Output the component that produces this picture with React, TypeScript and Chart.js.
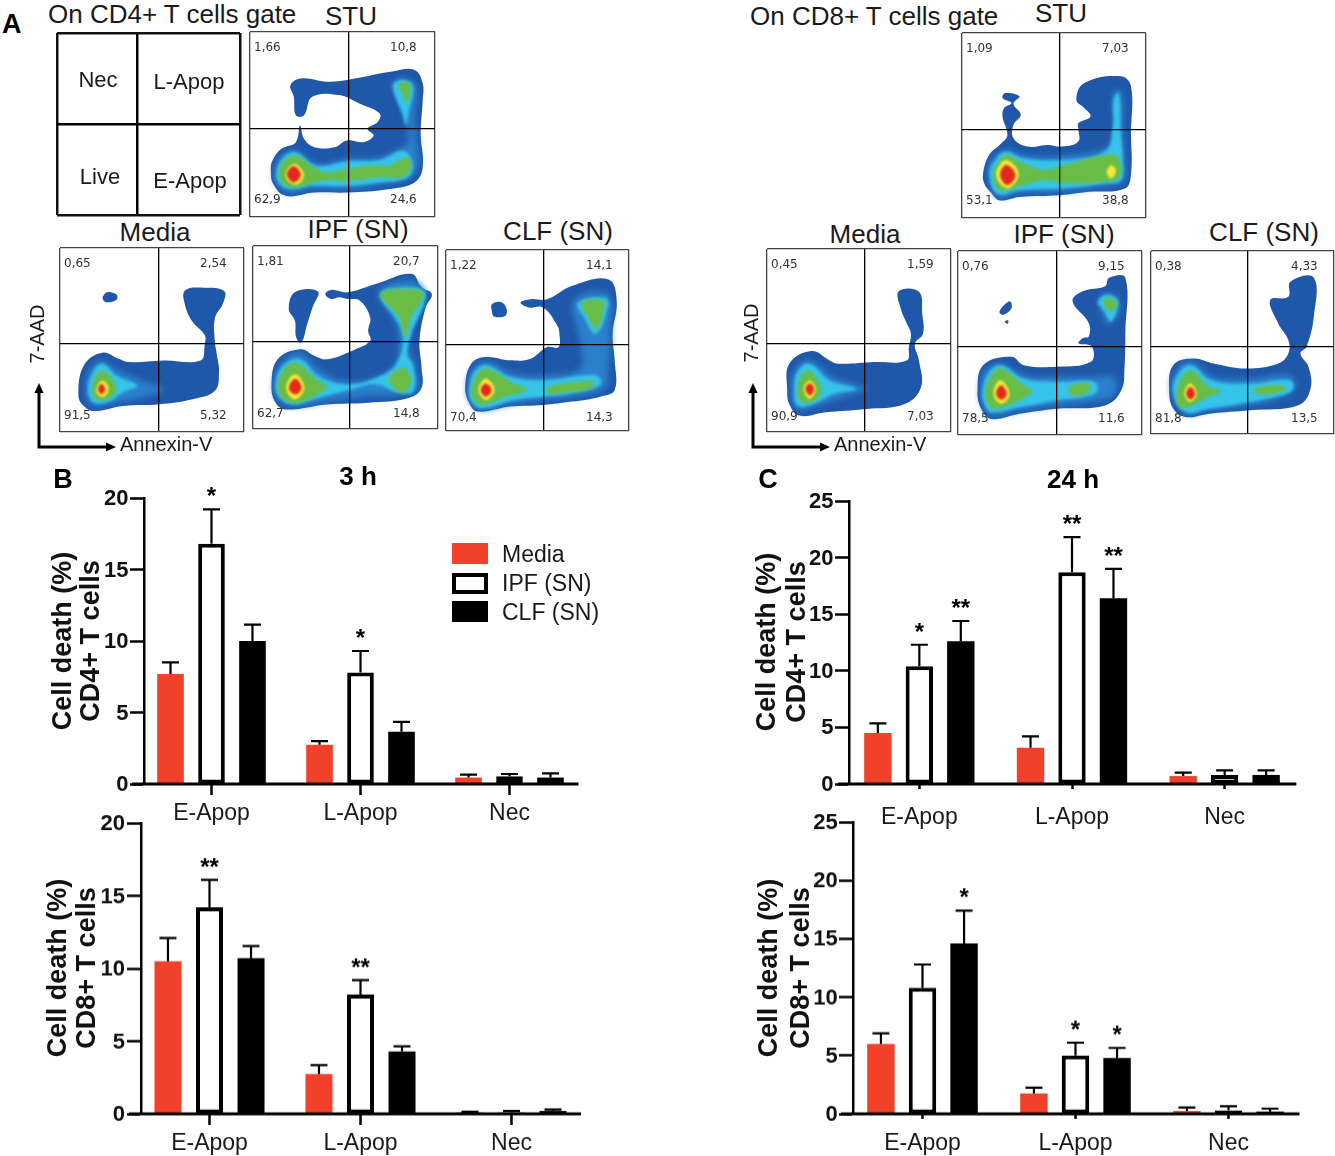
import React, { useEffect, useRef } from "react";
import { Chart, registerables } from "chart.js";

// Closed, smooth, softly edged density layers; registered first so it runs ahead of the Filler plugin.
const densityLayers = {
  id: "densityLayers",
  afterDatasetUpdate(chart: any, args: any) {
    const line = chart.getDatasetMeta(args.index).dataset;
    if (line && chart.data.datasets[args.index].blurPx) {
      line._loop = true;
      line._fullLoop = true;
    }
  },
  beforeDatasetDraw(chart: any, args: any) {
    const b = chart.data.datasets[args.index].blurPx;
    chart.ctx.filter = b ? `blur(${b}px)` : "none";
  },
  afterDatasetDraw(chart: any) {
    chart.ctx.filter = "none";
  },
  afterDatasetsDraw(chart: any) {
    chart.ctx.filter = "none";
  },
};
Chart.register(densityLayers);
Chart.register(...registerables);

const FONT = '"Liberation Sans", Arial, sans-serif';

/* ---------- bar data ---------- */
const categories = ["E-Apop", "L-Apop", "Nec"];
const seriesNames = ["Media", "IPF (SN)", "CLF (SN)"];

const h3Cd4Media = [7.7, 2.75, 0.45];
const h3Cd4MediaErr = [8.5, 3.0, 0.65];
const h3Cd4Ipf = [16.8, 7.8, 0.55];
const h3Cd4IpfErr = [19.2, 9.3, 0.7];
const h3Cd4Clf = [10.0, 3.65, 0.45];
const h3Cd4ClfErr = [11.15, 4.35, 0.75];
const h3Cd4IpfStars = ["*", "*", ""];

const h3Cd8Media = [10.5, 2.75, 0.1];
const h3Cd8MediaErr = [12.1, 3.35, 0.15];
const h3Cd8Ipf = [14.2, 8.2, 0.1];
const h3Cd8IpfErr = [16.1, 9.2, 0.2];
const h3Cd8Clf = [10.7, 4.3, 0.2];
const h3Cd8ClfErr = [11.55, 4.65, 0.3];
const h3Cd8IpfStars = ["**", "**", ""];

const h24Cd4Media = [4.5, 3.2, 0.7];
const h24Cd4MediaErr = [5.35, 4.2, 1.0];
const h24Cd4Ipf = [10.4, 18.7, 0.8];
const h24Cd4IpfErr = [12.3, 21.8, 1.2];
const h24Cd4Clf = [12.6, 16.4, 0.8];
const h24Cd4ClfErr = [14.4, 19.0, 1.2];
const h24Cd4IpfStars = ["*", "**", ""];
const h24Cd4ClfStars = ["**", "**", ""];

const h24Cd8Media = [6.0, 1.75, 0.25];
const h24Cd8MediaErr = [6.9, 2.25, 0.55];
const h24Cd8Ipf = [10.8, 5.0, 0.3];
const h24Cd8IpfErr = [12.8, 6.1, 0.65];
const h24Cd8Clf = [14.6, 4.8, 0.2];
const h24Cd8ClfErr = [17.4, 5.65, 0.45];
const h24Cd8IpfStars = ["", "*", ""];
const h24Cd8ClfStars = ["*", "*", ""];
const noStars = ["", "", ""];

/* ---------- flow cytometry gate percentages ---------- */
const cd4StuGates = ["1,66", "10,8", "62,9", "24,6"];
const cd4MediaGates = ["0,65", "2,54", "91,5", "5,32"];
const cd4IpfGates = ["1,81", "20,7", "62,7", "14,8"];
const cd4ClfGates = ["1,22", "14,1", "70,4", "14,3"];
const cd8StuGates = ["1,09", "7,03", "53,1", "38,8"];
const cd8MediaGates = ["0,45", "1,59", "90,9", "7,03"];
const cd8IpfGates = ["0,76", "9,15", "78,5", "11,6"];
const cd8ClfGates = ["0,38", "4,33", "81,8", "13,5"];

/* ---------- density contours in each plot's own units ---------- */
type Poly = number[][];
const cd4StuOuter: Poly = [[668,480],[690,445],[725,425],[735,375],[745,415],[770,440],[820,440],[850,420],[890,425],[915,405],[900,385],[925,365],[930,340],[880,310],[830,285],[765,290],[745,345],[725,345],[720,290],[712,255],[740,235],[800,245],[850,240],[960,215],[1015,210],[1035,250],[1035,300],[1030,400],[1035,500],[1015,545],[950,565],[850,575],[770,575],[700,585],[670,550],[664,510]];
const cd4StuMid: Poly = [[672,510],[690,465],[725,450],[780,490],[850,475],[930,470],[985,440],[1000,420],[990,340],[970,270],[960,250],[990,235],[1020,260],[1015,340],[1020,420],[1025,490],[1005,530],[940,550],[850,565],[760,565],[710,575],[680,555]];
const cd4StuCyanTop: Poly = [[962,255],[990,240],[1012,260],[1000,340],[995,375],[985,340]];
const cd4StuCyan: Poly = [[678,510],[695,470],[725,455],[775,495],[850,482],[930,478],[985,450],[1005,470],[1010,510],[990,535],[930,545],[850,555],[760,555],[715,565],[685,550]];
const cd4StuGreenTop: Poly = [[975,255],[990,245],[1005,258],[995,310],[985,280]];
const cd4StuGreen: Poly = [[685,510],[700,475],[725,465],[770,500],[800,515],[850,505],[900,495],[950,495],[1000,470],[1005,505],[985,530],[930,530],[860,540],[790,540],[720,560],[690,545]];
const cd4StuYellow: Poly = [[700,520],[720,490],[738,505],[745,525],[730,550],[710,545]];
const cd4StuRed: Poly = [[703,520],[720,497],[737,522],[720,545]];

const cd4MediaOuter: Poly = [[192,1180],[205,1090],[250,1052],[290,1070],[315,1080],[400,1075],[490,1075],[500,1030],[500,1000],[470,960],[452,910],[452,868],[500,860],[548,870],[545,905],[525,950],[525,1020],[530,1060],[535,1110],[525,1165],[470,1190],[390,1205],[300,1210],[230,1225],[205,1210]];
const cd4MediaBlob: Poly = [[252,885],[262,873],[285,880],[285,895],[262,903],[252,895]];
const cd4MediaMid: Poly = [[210,1170],[220,1100],[250,1075],[290,1105],[360,1140],[400,1160],[350,1185],[280,1200],[225,1210]];
const cd4MediaCyan: Poly = [[215,1165],[225,1115],[250,1085],[285,1120],[335,1150],[300,1170],[270,1195],[230,1200]];
const cd4MediaGreen: Poly = [[225,1160],[235,1120],[250,1105],[275,1130],[285,1160],[270,1185],[235,1190]];
const cd4MediaYellow: Poly = [[236,1160],[248,1135],[262,1145],[265,1165],[255,1182],[240,1178]];
const cd4MediaRed: Poly = [[240,1160],[248,1145],[257,1160],[248,1175]];

const cd4IpfOuter: Poly = [[665,1150],[680,1075],[735,1045],[770,1065],[800,1075],[860,1050],[905,1020],[900,990],[905,950],[880,900],[850,895],[830,890],[810,895],[796,880],[810,868],[850,875],[920,850],[1005,820],[1030,860],[1055,880],[1040,920],[1025,1020],[1030,1100],[1030,1160],[1000,1190],[900,1205],[800,1210],[700,1225],[675,1205]];
const cd4IpfBlob: Poly = [[707,925],[722,875],[778,873],[765,920],[752,970],[738,1025],[725,1010],[722,960]];
const cd4IpfMid: Poly = [[925,875],[1005,840],[1040,880],[1010,960],[1000,1040],[1015,1100],[1020,1165],[980,1180],[900,1185],[800,1200],[720,1215],[680,1195],[670,1150],[690,1085],[735,1055],[780,1105],[840,1140],[920,1130],[965,1090],[975,1020],[965,960]];
const cd4IpfCyan: Poly = [[930,880],[1000,860],[1040,880],[1005,1000],[995,1060],[1010,1095],[1010,1170],[975,1175],[920,1150],[860,1165],[780,1190],[720,1210],[685,1190],[675,1150],[692,1095],[735,1075],[780,1125],[850,1150],[930,1125],[970,1085],[985,1010],[970,960]];
const cd4IpfGreenTop: Poly = [[930,880],[1000,865],[1035,880],[1005,950],[990,1010],[975,950]];
const cd4IpfGreenLow: Poly = [[950,1130],[985,1100],[1005,1135],[985,1175],[955,1150]];
const cd4IpfGreen: Poly = [[680,1155],[695,1105],[725,1085],[775,1135],[800,1155],[770,1185],[720,1205],[690,1190]];
const cd4IpfYellow: Poly = [[700,1160],[722,1120],[745,1160],[722,1195]];
const cd4IpfRed: Poly = [[707,1160],[723,1133],[738,1160],[723,1180]];

const cd4ClfOuter: Poly = [[1140,1160],[1155,1090],[1190,1070],[1250,1080],[1300,1075],[1340,1040],[1368,1040],[1370,1000],[1365,975],[1330,920],[1295,920],[1275,905],[1300,895],[1340,895],[1400,855],[1490,835],[1510,900],[1500,1000],[1505,1080],[1505,1170],[1470,1190],[1400,1205],[1330,1215],[1250,1220],[1170,1235],[1150,1210]];
const cd4ClfBlob: Poly = [[1205,910],[1225,903],[1240,920],[1238,945],[1210,947],[1205,930]];
const cd4ClfMid: Poly = [[1145,1165],[1160,1100],[1195,1085],[1260,1120],[1340,1125],[1420,1105],[1420,1020],[1405,900],[1490,880],[1495,1000],[1490,1100],[1480,1165],[1400,1190],[1330,1200],[1260,1210],[1180,1230],[1152,1205]];
const cd4ClfCyanTop: Poly = [[1415,905],[1480,890],[1490,910],[1460,1000],[1430,950]];
const cd4ClfCyan: Poly = [[1150,1160],[1165,1110],[1195,1095],[1250,1130],[1330,1140],[1460,1125],[1470,1155],[1400,1180],[1330,1190],[1260,1200],[1180,1225],[1155,1205]];
const cd4ClfGreenTop: Poly = [[1425,905],[1475,897],[1480,915],[1460,985],[1440,950]];
const cd4ClfGreenLow: Poly = [[1345,1160],[1420,1145],[1455,1145],[1445,1165],[1380,1178],[1340,1180]];
const cd4ClfGreen: Poly = [[1155,1170],[1170,1120],[1195,1105],[1250,1145],[1290,1170],[1240,1190],[1180,1215],[1158,1195]];
const cd4ClfYellow: Poly = [[1172,1170],[1190,1135],[1212,1170],[1190,1200]];
const cd4ClfRed: Poly = [[1178,1170],[1190,1150],[1204,1170],[1190,1190]];

const cd8StuOuter: Poly = [[700,520],[715,465],[745,430],[760,405],[748,350],[752,325],[770,310],[748,295],[755,280],[790,290],[775,312],[793,345],[775,375],[775,415],[810,440],[860,435],[895,440],[935,425],[935,385],[935,370],[965,350],[950,325],[930,300],[950,250],[1040,230],[1065,260],[1065,400],[1065,520],[1050,565],[960,575],[890,585],[790,590],[740,600],[718,575],[703,550]];
const cd8StuMid: Poly = [[712,520],[725,475],[755,450],[800,465],[890,470],[1010,440],[1025,400],[1020,290],[1035,270],[1045,300],[1045,400],[1050,480],[1050,540],[1010,555],[890,575],[790,578],[735,590]];
const cd8StuCyan: Poly = [[716,520],[730,480],[755,455],[800,475],[890,480],[1000,455],[1020,380],[1022,300],[1035,280],[1040,400],[1045,480],[1040,540],[1000,550],[890,565],[790,570],[735,580]];
const cd8StuGreen: Poly = [[725,520],[738,485],[757,465],[800,490],[850,510],[900,495],[1000,465],[1032,470],[1038,530],[1000,545],[900,550],[850,540],[800,555],[740,570]];
const cd8StuYellowRight: Poly = [[1005,515],[1017,495],[1028,515],[1015,535]];
const cd8StuYellow: Poly = [[732,525],[755,480],[788,520],[760,565]];
const cd8StuRed: Poly = [[742,525],[757,495],[780,525],[760,555]];

const cd8MediaOuter: Poly = [[215,1170],[220,1090],[275,1052],[320,1080],[340,1090],[430,1085],[510,1080],[515,1040],[520,1000],[510,970],[495,925],[490,873],[540,875],[548,940],[550,1000],[530,1030],[540,1080],[545,1160],[505,1210],[410,1225],[310,1235],[245,1245],[220,1210]];
const cd8MediaMid: Poly = [[225,1175],[235,1105],[270,1080],[330,1130],[410,1165],[350,1190],[290,1215],[240,1225]];
const cd8MediaCyan: Poly = [[232,1170],[240,1115],[270,1090],[320,1140],[385,1165],[330,1180],[280,1210],[240,1215]];
const cd8MediaGreen: Poly = [[240,1170],[250,1125],[270,1110],[295,1150],[300,1175],[275,1205],[245,1200]];
const cd8MediaYellow: Poly = [[255,1165],[270,1140],[285,1165],[270,1195]];
const cd8MediaRed: Poly = [[260,1165],[271,1148],[281,1165],[271,1185]];

const cd8IpfOuter: Poly = [[686,1170],[700,1095],[770,1070],[800,1095],[880,1100],[965,1085],[968,1040],[935,1030],[945,1015],[960,1010],[960,970],[920,905],[945,875],[1000,860],[1010,835],[1050,835],[1050,1000],[1048,1100],[1040,1170],[1000,1215],[880,1225],[790,1240],[720,1255],[695,1225]];
const cd8IpfBlobA: Poly = [[740,935],[765,905],[770,925],[750,945]];
const cd8IpfBlobB: Poly = [[753,965],[762,962],[760,972]];
const cd8IpfMidTop: Poly = [[985,905],[1005,880],[1035,900],[1035,930],[1010,975],[990,930]];
const cd8IpfCyanTop: Poly = [[982,905],[1005,885],[1032,905],[1015,965],[995,930]];
const cd8IpfGreenTop: Poly = [[995,905],[1010,895],[1030,910],[1012,935]];
const cd8IpfMid: Poly = [[692,1170],[705,1110],[745,1090],[800,1125],[880,1130],[975,1130],[1020,1130],[1025,1180],[960,1205],[880,1215],[790,1230],[720,1245],[700,1220]];
const cd8IpfCyan: Poly = [[698,1175],[715,1115],[745,1095],[800,1135],[880,1145],[975,1145],[975,1180],[880,1200],[790,1220],[720,1235],[705,1215]];
const cd8IpfGreenLow: Poly = [[910,1160],[960,1150],[960,1175],[920,1185]];
const cd8IpfGreen: Poly = [[705,1175],[720,1125],[745,1105],[795,1150],[820,1170],[790,1200],[730,1225],[712,1210]];
const cd8IpfYellow: Poly = [[725,1180],[742,1140],[765,1180],[745,1210]];
const cd8IpfRed: Poly = [[732,1180],[744,1155],[758,1180],[745,1198]];

const cd8ClfOuter: Poly = [[1160,1170],[1170,1095],[1220,1075],[1270,1090],[1350,1105],[1430,1090],[1455,1060],[1455,1020],[1430,970],[1410,900],[1455,890],[1460,845],[1518,833],[1518,950],[1500,1040],[1485,1060],[1505,1100],[1510,1165],[1480,1215],[1360,1230],[1260,1240],[1200,1250],[1170,1225]];
const cd8ClfMid: Poly = [[1165,1170],[1180,1105],[1215,1085],[1270,1130],[1360,1135],[1460,1125],[1470,1165],[1440,1190],[1360,1215],[1260,1230],[1200,1240]];
const cd8ClfCyan: Poly = [[1170,1175],[1185,1115],[1215,1095],[1265,1140],[1360,1150],[1460,1140],[1465,1170],[1420,1190],[1360,1205],[1260,1225],[1200,1235]];
const cd8ClfGreenLow: Poly = [[1370,1165],[1430,1155],[1450,1165],[1420,1180],[1375,1180]];
const cd8ClfGreen: Poly = [[1178,1175],[1195,1125],[1215,1110],[1260,1160],[1290,1170],[1250,1195],[1195,1225],[1180,1210]];
const cd8ClfYellow: Poly = [[1197,1180],[1212,1150],[1228,1180],[1212,1205]];
const cd8ClfRed: Poly = [[1202,1180],[1213,1160],[1224,1180],[1213,1198]];

/* ---------- level styles ---------- */
const LEVEL: Record<string, { color: string; blur: number }> = {
  blue: { color: "#1f57aa", blur: 0.5 },
  mid: { color: "#2b80cb", blur: 3 },
  cyan: { color: "#35c4ea", blur: 1.5 },
  green: { color: "#69bc46", blur: 1.5 },
  yellow: { color: "#f4e83a", blur: 1.2 },
  red: { color: "#e5281d", blur: 1.2 },
};
type Layer = [string, Poly];

function FlowPlot({ box, range, gate, layers, lineWidth = 1.3, frame = "#444" }: any) {
  const ref = useRef<HTMLCanvasElement>(null);
  useEffect(() => {
    const pad = 2;
    const [x0, x1, y0, y1] = range;
    const chart = new Chart(ref.current!, {
      type: "scatter",
      data: {
        datasets: (layers as Layer[]).map(([level, poly], i) => ({
          data: poly.map(([x, y]) => ({ x, y })),
          order: -i,
          showLine: true,
          spanGaps: true,
          fill: "shape",
          tension: 0.4,
          borderWidth: 0,
          pointRadius: 0,
          backgroundColor: LEVEL[level].color,
          blurPx: LEVEL[level].blur,
        })) as any,
      },
      options: {
        animation: false,
        responsive: false,
        events: [],
        layout: { padding: pad },
        plugins: { legend: { display: false }, tooltip: { enabled: false } },
        scales: {
          x: {
            type: "linear", min: x0, max: x1,
            afterBuildTicks: (s: any) => { s.ticks = [{ value: x0 }, { value: gate[0] }, { value: x1 }]; },
            ticks: { display: false },
            border: { display: false },
            grid: { z: 1, drawTicks: false, lineWidth, color: (c: any) => (c.index === 1 ? "#000" : frame) },
          },
          y: {
            type: "linear", min: y0, max: y1, reverse: true,
            afterBuildTicks: (s: any) => { s.ticks = [{ value: y0 }, { value: gate[1] }, { value: y1 }]; },
            ticks: { display: false },
            border: { display: false },
            grid: { z: 1, drawTicks: false, lineWidth, color: (c: any) => (c.index === 1 ? "#000" : frame) },
          },
        },
      } as any,
    });
    return () => chart.destroy();
  }, []);
  return (
    <canvas
      ref={ref}
      width={box.w + 4}
      height={box.h + 4}
      style={{ position: "absolute", left: box.x - 2, top: box.y - 2, width: box.w + 4, height: box.h + 4 }}
    />
  );
}

function GateText({ box, values }: any) {
  const spots = [
    [4, 15], [140, 15], [4, 167], [140, 167],
  ];
  return (
    <>
      {values.map((v: string, i: number) => (
        <Txt key={i} x={box.x + spots[i][0]} y={box.y + spots[i][1]} size={12} align="left" family='"DejaVu Sans", sans-serif' color="#333">{v}</Txt>
      ))}
    </>
  );
}

function Txt({ x, y, size, children, bold, align = "center", rotate, family = FONT, color = "#1a1a1a" }: any) {
  const tx = align === "center" ? "-50%" : "0";
  return (
    <div
      style={{
        position: "absolute", left: x, top: y, whiteSpace: "nowrap", lineHeight: 1,
        fontFamily: family, fontSize: size, fontWeight: bold ? 700 : 400, color,
        transform: `translate(${tx},-50%)${rotate ? ` rotate(${rotate}deg)` : ""}`,
      }}
    >
      {children}
    </div>
  );
}

function BarPanel({ cfg, media, mediaErr, ipf, ipfErr, clf, clfErr, ipfStars, clfStars, yMax }: any) {
  const ref = useRef<HTMLCanvasElement>(null);
  useEffect(() => {
    const { L, R, top, zero, axisPx, axisEnd, tick, labelGap, catPct, barPct } = cfg;
    const cl = L - 60, ct = top - 20, cw = R - L + 80, ch = zero - top + 70;
    const canvas = ref.current!;
    canvas.style.left = cl + "px";
    canvas.style.top = ct + "px";
    canvas.width = cw; canvas.height = ch;
    canvas.style.width = cw + "px"; canvas.style.height = ch + "px";
    const S = (R - L) / 3;
    const ds = (data: number[], err: number[], stars: string[], bg: string, border: string, bw: number) => ({
      data, errTop: err, stars, backgroundColor: bg, borderColor: border, borderWidth: bw, borderSkipped: false,
      barPercentage: barPct, categoryPercentage: catPct,
    });
    const marks = {
      id: "marks",
      afterDatasetsDraw(chart: any) {
        const c = chart.ctx, y = chart.scales.y;
        c.save();
        c.strokeStyle = "#000";
        chart.data.datasets.forEach((d: any, di: number) => {
          chart.getDatasetMeta(di).data.forEach((bar: any, i: number) => {
            const ty = y.getPixelForValue(d.errTop[i]);
            const by = y.getPixelForValue(d.data[i]);
            c.lineWidth = 2.2;
            c.beginPath(); c.moveTo(bar.x, by); c.lineTo(bar.x, ty);
            c.moveTo(bar.x - 8.5, ty); c.lineTo(bar.x + 8.5, ty); c.stroke();
            if (d.stars[i]) {
              c.fillStyle = "#000";
              c.font = `700 24px ${FONT}`;
              c.textAlign = "center";
              c.textBaseline = "alphabetic";
              c.fillText(d.stars[i], bar.x, ty - 5);
            }
          });
        });
        c.lineWidth = 3;
        c.beginPath();
        const y0 = y.getPixelForValue(0);
        c.moveTo(chart.chartArea.left - 5, y0); c.lineTo(axisEnd - cl, y0); c.stroke();
        // y tick labels, from the scale's own ticks, to the left of the tick marks
        c.fillStyle = "#111";
        c.font = `700 22px ${FONT}`;
        c.textAlign = "right";
        c.textBaseline = "middle";
        y.ticks.forEach((t: any) => c.fillText(String(t.value), axisPx - cl - 16, y.getPixelForValue(t.value) + 1));
        c.restore();
      },
    };
    const chart = new Chart(canvas, {
      type: "bar",
      data: {
        labels: categories,
        datasets: [
          { label: seriesNames[0], ...ds(media, mediaErr, noStars, "#f1412b", "#f1412b", 0) },
          { label: seriesNames[1], ...ds(ipf, ipfErr, ipfStars, "#ffffff", "#000000", 4) },
          { label: seriesNames[2], ...ds(clf, clfErr, clfStars, "#000000", "#000000", 0) },
        ] as any,
      },
      plugins: [marks],
      options: {
        animation: false,
        responsive: false,
        events: [],
        layout: { padding: { left: L - cl, right: cl + cw - R, top: top - ct, bottom: 0 } },
        plugins: { legend: { display: false }, tooltip: { enabled: false } },
        scales: {
          x: {
            type: "category",
            afterFit: (s: any) => { s.height = ct + ch - zero; },
            border: { display: false },
            grid: { offset: false, drawOnChartArea: false, tickLength: tick, tickWidth: 2.5, tickColor: "#000" },
            ticks: { color: "#1a1a1a", padding: labelGap - tick, font: { family: FONT, size: 23 }, maxRotation: 0, autoSkip: false },
          },
          y: {
            position: { x: (axisPx - L) / S - 0.5 },
            min: 0, max: yMax,
            border: { display: true, width: 2.5, color: "#000" },
            grid: { drawOnChartArea: false, tickLength: 13, tickWidth: 2.5, tickColor: "#000" },
            ticks: { stepSize: 5, display: false },
          },
        },
      } as any,
    });
    return () => chart.destroy();
  }, []);
  return <canvas ref={ref} style={{ position: "absolute" }} />;
}

/* ---------- plot placement ---------- */
const B1 = { L: 136.5, R: 583.5, top: 497.7, zero: 784, axisPx: 144, axisEnd: 578, tick: 11, labelGap: 16, catPct: 0.825, barPct: 0.65 };
const B2 = { L: 134, R: 587, top: 823.3, zero: 1114, axisPx: 141, axisEnd: 581, tick: 11, labelGap: 16, catPct: 0.825, barPct: 0.65 };
const C1 = { L: 842.6, R: 1300.8, top: 500.7, zero: 784, axisPx: 849, axisEnd: 1296, tick: 5, labelGap: 20, catPct: 0.815, barPct: 0.66 };
const C2 = { L: 846, R: 1305, top: 822.3, zero: 1114, axisPx: 853.7, axisEnd: 1299.5, tick: 5, labelGap: 16, catPct: 0.815, barPct: 0.66 };

const boxes = {
  s4: { x: 250, y: 32, w: 185, h: 185 }, m4: { x: 60, y: 248, w: 184, h: 184 },
  i4: { x: 253, y: 246, w: 185, h: 183 }, c4: { x: 446, y: 250, w: 183, h: 181 },
  key: { x: 57, y: 33, w: 183, h: 182 },
  s8: { x: 962, y: 33, w: 184, h: 185 }, m8: { x: 767, y: 249, w: 184, h: 183 },
  i8: { x: 958, y: 251, w: 184, h: 184 }, c8: { x: 1151, y: 251, w: 183, h: 183 },
};

function AxisArrows({ x, y }: any) {
  return (
    <svg style={{ position: "absolute", left: x - 6, top: y - 64, overflow: "visible" }} width="90" height="72">
      <path d="M6 6 V64 H76" fill="none" stroke="#000" strokeWidth="3" />
      <path d="M6 0 L1.5 10 H10.5 Z M83 64 L73 59.5 V68.5 Z" fill="#000" />
    </svg>
  );
}

export default function App() {
  return (
    <div style={{ position: "absolute", left: 0, top: 0, width: 1335, height: 1156, background: "#fff", overflow: "hidden" }}>
      <Txt x={2} y={24} size={27} bold align="left" color="#000">A</Txt>
      <Txt x={48} y={14} size={26} align="left">On CD4+ T cells gate</Txt>
      <Txt x={351} y={16} size={26}>STU</Txt>
      <Txt x={155} y={232} size={26}>Media</Txt>
      <Txt x={358} y={229} size={26}>IPF (SN)</Txt>
      <Txt x={558} y={231} size={26}>CLF (SN)</Txt>
      <Txt x={750} y={16} size={26} align="left">On CD8+ T cells gate</Txt>
      <Txt x={1061} y={13} size={26}>STU</Txt>
      <Txt x={865} y={234} size={26}>Media</Txt>
      <Txt x={1064} y={234} size={26}>IPF (SN)</Txt>
      <Txt x={1264} y={232} size={26}>CLF (SN)</Txt>

      <FlowPlot box={boxes.key} range={[140, 586, 100, 647]} gate={[335, 373]} layers={[]} lineWidth={2.5} frame="#111" />
      <Txt x={98} y={80} size={22}>Nec</Txt>
      <Txt x={189} y={82} size={22}>L-Apop</Txt>
      <Txt x={100} y={177} size={22}>Live</Txt>
      <Txt x={190} y={181} size={22}>E-Apop</Txt>

      <FlowPlot box={boxes.s4} range={[613, 1065, 97, 648]} gate={[853, 385]} layers={[
        ["blue", cd4StuOuter], ["mid", cd4StuMid], ["cyan", cd4StuCyanTop], ["cyan", cd4StuCyan],
        ["green", cd4StuGreenTop], ["green", cd4StuGreen], ["yellow", cd4StuYellow], ["red", cd4StuRed],
      ]} />
      <FlowPlot box={boxes.m4} range={[147, 596, 742, 1287]} gate={[388, 1025]} layers={[
        ["blue", cd4MediaOuter], ["blue", cd4MediaBlob], ["mid", cd4MediaMid], ["cyan", cd4MediaCyan],
        ["green", cd4MediaGreen], ["yellow", cd4MediaYellow], ["red", cd4MediaRed],
      ]} />
      <FlowPlot box={boxes.i4} range={[620, 1070, 737, 1283]} gate={[855, 1021]} layers={[
        ["blue", cd4IpfOuter], ["blue", cd4IpfBlob], ["mid", cd4IpfMid], ["cyan", cd4IpfCyan],
        ["green", cd4IpfGreenTop], ["green", cd4IpfGreenLow], ["green", cd4IpfGreen], ["yellow", cd4IpfYellow], ["red", cd4IpfRed],
      ]} />
      <FlowPlot box={boxes.c4} range={[1093, 1540, 746, 1294]} gate={[1332, 1032]} layers={[
        ["blue", cd4ClfOuter], ["blue", cd4ClfBlob], ["mid", cd4ClfMid], ["cyan", cd4ClfCyanTop], ["cyan", cd4ClfCyan],
        ["green", cd4ClfGreenTop], ["green", cd4ClfGreenLow], ["green", cd4ClfGreen], ["yellow", cd4ClfYellow], ["red", cd4ClfRed],
      ]} />
      <FlowPlot box={boxes.s8} range={[648, 1102, 101, 653]} gate={[890, 388]} layers={[
        ["blue", cd8StuOuter], ["mid", cd8StuMid], ["cyan", cd8StuCyan], ["green", cd8StuGreen],
        ["yellow", cd8StuYellowRight], ["yellow", cd8StuYellow], ["red", cd8StuRed],
      ]} />
      <FlowPlot box={boxes.m8} range={[165, 619, 747, 1294]} gate={[407, 1031]} layers={[
        ["blue", cd8MediaOuter], ["mid", cd8MediaMid], ["cyan", cd8MediaCyan], ["green", cd8MediaGreen],
        ["yellow", cd8MediaYellow], ["red", cd8MediaRed],
      ]} />
      <FlowPlot box={boxes.i8} range={[638, 1091, 755, 1303]} gate={[881, 1039]} layers={[
        ["blue", cd8IpfOuter], ["blue", cd8IpfBlobA], ["blue", cd8IpfBlobB], ["mid", cd8IpfMidTop], ["cyan", cd8IpfCyanTop],
        ["green", cd8IpfGreenTop], ["mid", cd8IpfMid], ["cyan", cd8IpfCyan], ["green", cd8IpfGreenLow], ["green", cd8IpfGreen],
        ["yellow", cd8IpfYellow], ["red", cd8IpfRed],
      ]} />
      <FlowPlot box={boxes.c8} range={[1115, 1568, 753, 1301]} gate={[1355, 1038]} layers={[
        ["blue", cd8ClfOuter], ["mid", cd8ClfMid], ["cyan", cd8ClfCyan], ["green", cd8ClfGreenLow], ["green", cd8ClfGreen],
        ["yellow", cd8ClfYellow], ["red", cd8ClfRed],
      ]} />

      <GateText box={boxes.s4} values={cd4StuGates} />
      <GateText box={boxes.m4} values={cd4MediaGates} />
      <GateText box={boxes.i4} values={cd4IpfGates} />
      <GateText box={boxes.c4} values={cd4ClfGates} />
      <GateText box={boxes.s8} values={cd8StuGates} />
      <GateText box={boxes.m8} values={cd8MediaGates} />
      <GateText box={boxes.i8} values={cd8IpfGates} />
      <GateText box={boxes.c8} values={cd8ClfGates} />

      <AxisArrows x={39} y={447} />
      <AxisArrows x={753} y={447} />
      <Txt x={37} y={334} size={20} rotate={-90}>7-AAD</Txt>
      <Txt x={751} y={333} size={20} rotate={-90}>7-AAD</Txt>
      <Txt x={120} y={444} size={20} align="left">Annexin-V</Txt>
      <Txt x={834} y={444} size={20} align="left">Annexin-V</Txt>

      <Txt x={63} y={479} size={27} bold color="#000">B</Txt>
      <Txt x={768} y={479} size={27} bold color="#000">C</Txt>
      <Txt x={358} y={476} size={26} bold color="#000">3 h</Txt>
      <Txt x={1073} y={479} size={26} bold color="#000">24 h</Txt>

      <BarPanel cfg={B1} yMax={20} media={h3Cd4Media} mediaErr={h3Cd4MediaErr} ipf={h3Cd4Ipf} ipfErr={h3Cd4IpfErr} clf={h3Cd4Clf} clfErr={h3Cd4ClfErr} ipfStars={h3Cd4IpfStars} clfStars={noStars} />
      <BarPanel cfg={B2} yMax={20} media={h3Cd8Media} mediaErr={h3Cd8MediaErr} ipf={h3Cd8Ipf} ipfErr={h3Cd8IpfErr} clf={h3Cd8Clf} clfErr={h3Cd8ClfErr} ipfStars={h3Cd8IpfStars} clfStars={noStars} />
      <BarPanel cfg={C1} yMax={25} media={h24Cd4Media} mediaErr={h24Cd4MediaErr} ipf={h24Cd4Ipf} ipfErr={h24Cd4IpfErr} clf={h24Cd4Clf} clfErr={h24Cd4ClfErr} ipfStars={h24Cd4IpfStars} clfStars={h24Cd4ClfStars} />
      <BarPanel cfg={C2} yMax={25} media={h24Cd8Media} mediaErr={h24Cd8MediaErr} ipf={h24Cd8Ipf} ipfErr={h24Cd8IpfErr} clf={h24Cd8Clf} clfErr={h24Cd8ClfErr} ipfStars={h24Cd8IpfStars} clfStars={h24Cd8ClfStars} />

      <Txt x={62} y={641} size={27} bold rotate={-90} color="#111">Cell death (%)</Txt>
      <Txt x={90} y={641} size={27} bold rotate={-90} color="#111">CD4+ T cells</Txt>
      <Txt x={57} y={968} size={27} bold rotate={-90} color="#111">Cell death (%)</Txt>
      <Txt x={86} y={968} size={27} bold rotate={-90} color="#111">CD8+ T cells</Txt>
      <Txt x={766} y={642} size={27} bold rotate={-90} color="#111">Cell death (%)</Txt>
      <Txt x={796} y={642} size={27} bold rotate={-90} color="#111">CD4+ T cells</Txt>
      <Txt x={768} y={968} size={27} bold rotate={-90} color="#111">Cell death (%)</Txt>
      <Txt x={800} y={968} size={27} bold rotate={-90} color="#111">CD8+ T cells</Txt>

      <div style={{ position: "absolute", left: 452, top: 543, width: 36, height: 21, background: "#f1412b" }} />
      <div style={{ position: "absolute", left: 452, top: 573, width: 36, height: 21, boxSizing: "border-box", background: "#fff", border: "4px solid #000" }} />
      <div style={{ position: "absolute", left: 452, top: 601, width: 36, height: 21, background: "#000" }} />
      <Txt x={502} y={554} size={23} align="left">{seriesNames[0]}</Txt>
      <Txt x={502} y={583} size={23} align="left">{seriesNames[1]}</Txt>
      <Txt x={502} y={612} size={23} align="left">{seriesNames[2]}</Txt>
    </div>
  );
}
